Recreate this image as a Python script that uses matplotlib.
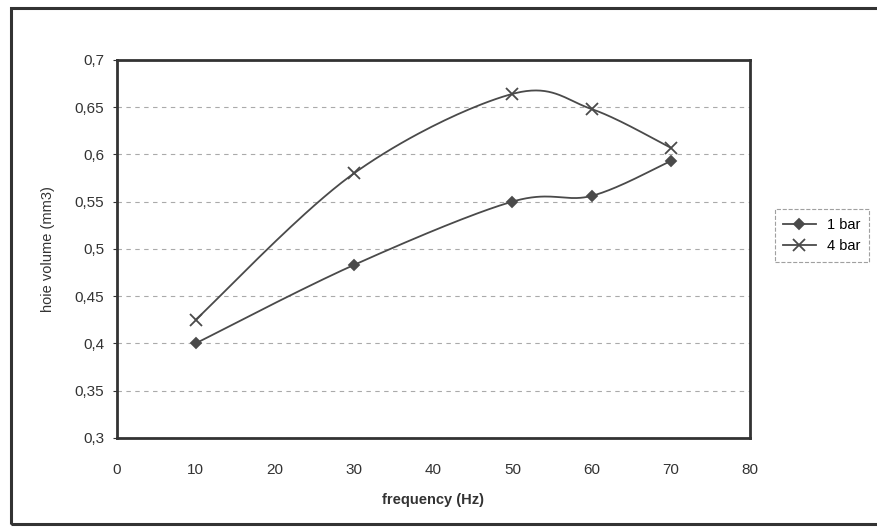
import numpy as np
import matplotlib.pyplot as plt
from matplotlib.patches import Rectangle
from matplotlib.ticker import FuncFormatter

# data
freq = [10, 30, 50, 60, 70]
vol_1bar = [0.400, 0.483, 0.550, 0.556, 0.593]
vol_4bar = [0.425, 0.580, 0.664, 0.648, 0.607]
labels = ["1 bar", "4 bar"]


def smooth(xs, ys, n=40):
    """ Excel-like smoothed line: cubic Bezier segments through the points """
    p = np.column_stack([xs, ys]).astype(float)
    # padding so that end segments have neighbours
    p = np.vstack([p[0], p, p[-1]])
    out = []
    for i in range(1, len(p) - 2):
        p0, p1, p2, p3 = p[i - 1], p[i], p[i + 1], p[i + 2]
        c1 = p1 + (p2 - p0) / 6
        c2 = p2 - (p3 - p1) / 6
        t = np.linspace(0, 1, n)[:, None]
        seg = (1 - t) ** 3 * p1 + 3 * (1 - t) ** 2 * t * c1 + 3 * (1 - t) * t ** 2 * c2 + t ** 3 * p2
        out.append(seg)
    out = np.vstack(out)
    return out[:, 0], out[:, 1]


plt.rcParams['font.family'] = ['Liberation Sans', 'DejaVu Sans']
fig = plt.figure(figsize=(8.77, 5.30), dpi=100)
ax = fig.add_axes([0.133, 0.174, 0.722, 0.713])

col = "#4a4a4a"
for ys, mk, ms, lab in [(vol_1bar, "D", 5, labels[0]), (vol_4bar, "x", 8, labels[1])]:
    sx, sy = smooth(freq, ys)
    ax.plot(sx, sy, color=col, lw=1.3)
    ax.plot(freq, ys, linestyle="none", marker=mk, markersize=ms, color=col, mew=1.3)
    ax.plot([], [], color=col, lw=1.3, marker=mk, markersize=ms, mew=1.3, label=lab)

ax.set_xlim(0, 80)
ax.set_ylim(0.3, 0.7)
ax.set_xticks(range(0, 81, 10))
ax.set_yticks(np.arange(0.3, 0.701, 0.05))
ax.yaxis.set_major_formatter(FuncFormatter(lambda v, p: f"{v:.2f}".rstrip("0").rstrip(".").replace(".", ",")))
ax.grid(axis="y", linestyle=(0, (4, 4)), color="#aaaaaa", lw=0.8)
ax.tick_params(axis="x", length=0, pad=18, labelsize=11, colors="#333333")
ax.tick_params(axis="y", length=3, pad=6, labelsize=11, colors="#333333")
for s in ax.spines.values():
    s.set_linewidth(2)
    s.set_color("#333333")

ax.set_xlabel("frequency (Hz)", fontsize=10.5, fontweight="bold", color="#333333", labelpad=12)
ax.set_ylabel("hoie volume (mm3)", fontsize=10.5, color="#333333", labelpad=14)

leg = fig.legend(loc="center left", bbox_to_anchor=(0.875, 0.555), frameon=True, fontsize=10.5,
                 handlelength=2.2, borderpad=0.6, fancybox=False)
leg.get_frame().set_edgecolor("#888888")
leg.get_frame().set_linestyle("--")
leg.get_frame().set_linewidth(0.8)

# outer chart frame
fig.patches.append(Rectangle((0.012, 0.012), 1.1, 0.972, transform=fig.transFigure,
                             fill=False, lw=2.2, edgecolor="#333333"))

fig.savefig("out.png", dpi=100)
